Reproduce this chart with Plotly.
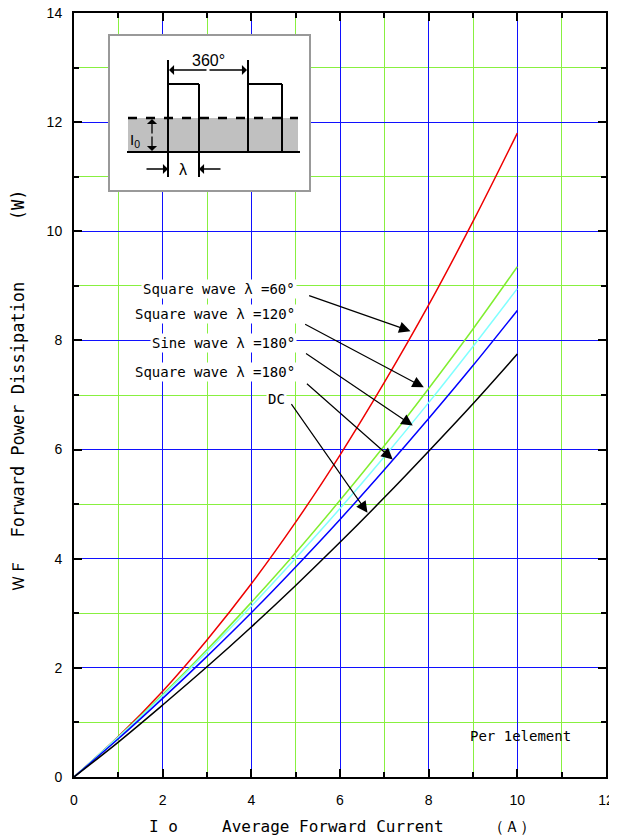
import plotly.graph_objects as go

# ---- data ----
io = [0, 1, 2, 3, 4, 5, 6, 7, 8, 9, 10]
sq60 = [0, 0.74, 1.57, 2.51, 3.54, 4.67, 5.90, 7.23, 8.65, 10.18, 11.80]
sq120 = [0, 0.73, 1.51, 2.33, 3.20, 4.11, 5.07, 6.07, 7.12, 8.21, 9.35]
sine180 = [0, 0.73, 1.49, 2.29, 3.13, 4.01, 4.92, 5.87, 6.86, 7.89, 8.95]
sq180 = [0, 0.70, 1.44, 2.21, 3.01, 3.85, 4.72, 5.63, 6.57, 7.54, 8.55]
dc = [0, 0.64, 1.32, 2.02, 2.75, 3.51, 4.30, 5.12, 5.97, 6.84, 7.75]

series_names = ["Square wave λ=60°", "Square wave λ=120°", "Sine wave λ=180°",
                "Square wave λ=180°", "DC"]
series_vals = [sq60, sq120, sine180, sq180, dc]
series_colors = ["#ee0000", "#80ee30", "#80ffff", "#0000ff", "#000000"]

# annotation labels and arrows
label_texts = ["Square wave λ =60°", "Square wave λ =120°", "Sine wave λ =180°",
               "Square wave λ =180°", "DC"]
label_x = [5.04, 5.04, 5.04, 5.04, 4.57]
label_y = [8.95, 8.48, 7.96, 7.43, 6.93]
arrow_tail_x = [5.27, 5.18, 5.20, 5.22, 4.88]
arrow_tail_y = [8.83, 8.31, 7.78, 7.23, 6.86]
arrow_head_x = [7.59, 7.89, 7.64, 7.19, 6.62]
arrow_head_y = [8.17, 7.14, 6.44, 5.82, 4.84]

# page is rendered with an 8px body margin
OFF = 8
W, H = 617 - OFF, 839 - OFF
PL, PR, PT, PB = 74, 606, 13, 777          # plot area on the page
L, T = PL - OFF, PT - OFF
R, B = W - (PR - OFF), H - (PB - OFF)
PW, PH = PR - PL, PB - PT

def px(x):
    return (x - PL) / PW

def py(y):
    return (PB - y) / PH

fig = go.Figure()
for name, vals, col in zip(series_names, series_vals, series_colors):
    fig.add_trace(go.Scatter(x=io, y=vals, mode="lines", name=name,
                             line=dict(color=col, width=1.5, shape="spline"),
                             showlegend=False))

annotations = []
for t, x, y in zip(label_texts, label_x, label_y):
    annotations.append(dict(x=x, y=y, xref="x", yref="y", text=t, showarrow=False,
                            xanchor="right" if t != "DC" else "center", yanchor="middle",
                            bgcolor="white",
                            font=dict(family="DejaVu Sans Mono", size=14, color="black")))
for tx, ty, hx, hy in zip(arrow_tail_x, arrow_tail_y, arrow_head_x, arrow_head_y):
    annotations.append(dict(x=hx, y=hy, ax=tx, ay=ty, xref="x", yref="y",
                            axref="x", ayref="y", text="", showarrow=True,
                            arrowhead=2, arrowsize=1.9, arrowwidth=1.2,
                            arrowcolor="black"))

annotations.append(dict(x=10.08, y=0.75, xref="x", yref="y", text="Per 1element",
                        showarrow=False, xanchor="center", yanchor="middle",
                        font=dict(family="DejaVu Sans Mono", size=14, color="black")))

# axis titles
title_font = dict(family="DejaVu Sans Mono", size=16, color="black")
annotations.append(dict(x=px(163), y=py(826), xref="paper", yref="paper", text="I o",
                        showarrow=False, xanchor="center", yanchor="middle", font=title_font))
annotations.append(dict(x=px(220), y=py(826), xref="paper", yref="paper",
                        text="Average Forward Current",
                        showarrow=False, xanchor="left", yanchor="middle", font=title_font))
annotations.append(dict(x=px(512), y=py(826), xref="paper", yref="paper", text="（Ａ）",
                        showarrow=False, xanchor="center", yanchor="middle", font=title_font))
annotations.append(dict(x=px(18), y=py(391), xref="paper", yref="paper",
                        text="ＷＦ  Forward Power Dissipation      (W)",
                        textangle=-90, showarrow=False, xanchor="center", yanchor="middle",
                        font=dict(family="DejaVu Sans Mono", size=17, color="black")))

# inset schematic
shapes = []
def line(x0, y0, x1, y1, width=2, dash="solid", color="black"):
    shapes.append(dict(type="line", xref="paper", yref="paper",
                       x0=px(x0), y0=py(y0), x1=px(x1), y1=py(y1),
                       line=dict(color=color, width=width, dash=dash), layer="above"))

shapes.append(dict(type="rect", xref="paper", yref="paper",
                   x0=px(109), y0=py(35), x1=px(310), y1=py(191),
                   fillcolor="white", line=dict(color="#999999", width=2), layer="above"))
shapes.append(dict(type="rect", xref="paper", yref="paper",
                   x0=px(128), y0=py(118), x1=px(298), y1=py(152),
                   fillcolor="#c0c0c0", line=dict(width=0), layer="above"))
line(127, 152, 300, 152)
line(128, 118, 298, 118, width=2.5, dash="dash")
line(168, 60, 168, 177)
line(168, 84, 199, 84)
line(199, 84, 199, 177)
line(248, 60, 248, 152)
line(248, 84, 282, 84)
line(282, 84, 282, 152)

# arrows inside inset (tail given as pixel offset)
def arr(hx, hy, tx, ty):
    annotations.append(dict(x=px(hx), y=py(hy), ax=tx - hx, ay=ty - hy,
                            xref="paper", yref="paper", axref="pixel", ayref="pixel",
                            text="", showarrow=True, arrowhead=1, arrowsize=1.3,
                            arrowwidth=1.3, arrowcolor="black"))

arr(169, 70, 208, 70)
arr(247, 70, 208, 70)
arr(152, 119, 152, 135)
arr(152, 151, 152, 135)
arr(168, 169, 145, 169)
arr(199, 169, 222, 169)

def label(x, y, t, size=15):
    annotations.append(dict(x=px(x), y=py(y), xref="paper", yref="paper", text=t,
                            showarrow=False, xanchor="center", yanchor="middle",
                            font=dict(family="Liberation Sans", size=size, color="black")))

label(208, 61, "360°", 16)
label(135, 140, "I<sub>0</sub>", 15)
label(183, 170, "λ", 16)

axis_common = dict(
    showline=True, linecolor="black", linewidth=2, mirror="ticks",
    ticks="inside", ticklen=8, tickwidth=2, tickcolor="black",
    showgrid=True, gridcolor="#1010ff", gridwidth=1, zeroline=False,
    automargin=False, ticklabeloverflow="allow",
    minor=dict(dtick=1, showgrid=True, gridcolor="#88f040", gridwidth=1,
               ticks="inside", ticklen=5, tickwidth=2, tickcolor="black"),
    tickfont=dict(family="Liberation Sans", size=14, color="black"),
)

fig.update_layout(
    width=W, height=H,
    margin=dict(l=L, r=R, t=T, b=B, autoexpand=False),
    paper_bgcolor="white", plot_bgcolor="white",
    xaxis=dict(range=[0, 12], dtick=2, tick0=0, ticklabelstandoff=9, **axis_common),
    yaxis=dict(range=[0, 14], dtick=2, tick0=0, ticklabelstandoff=7, **axis_common),
    annotations=annotations, shapes=shapes,
)

fig.write_html("out.html")
